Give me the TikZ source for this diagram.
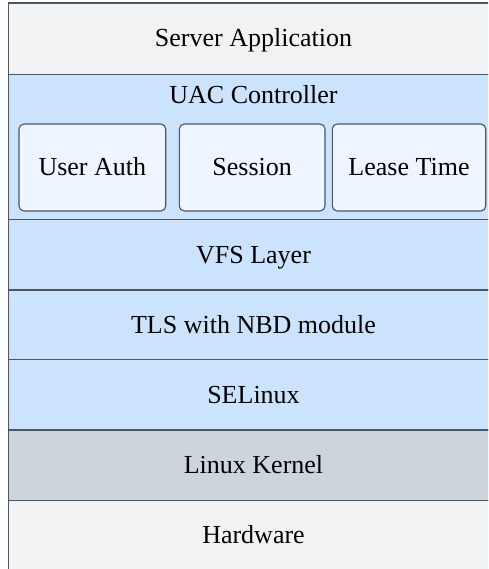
\documentclass[tikz,border=0pt]{standalone}
\usepackage{fontspec}
\setmainfont{Liberation Serif}
\definecolor{edge}{HTML}{4D5462}
\definecolor{appgray}{HTML}{F1F2F4}
\definecolor{sysblue}{HTML}{CCE3FD}
\definecolor{modfill}{HTML}{EEF5FF}
\definecolor{kernelgray}{HTML}{CDD5DC}
\begin{document}
\begin{tikzpicture}[x=1pt,y=-1pt,
  layer/.style={draw=edge, line width=1.3pt, minimum width=490pt, anchor=north west,
    inner sep=0pt, outer sep=0pt},
  module/.style={draw=edge, line width=1.1pt, fill=modfill, rounded corners=5pt,
    anchor=north west, inner sep=0pt, outer sep=0pt, minimum height=87pt},
  lbl/.style={anchor=base, inner sep=0pt, font=\fontsize{26}{30}\selectfont, text=black}
]
\clip (0,0) rectangle (488,569);

% stacked layers, top to bottom
\node[layer, fill=appgray,    minimum height=71.5pt] (server)   at (8.5,3)     {};
\node[layer, fill=sysblue,    minimum height=145pt]  (uac)      at (8.5,74.5)  {};
\node[layer, fill=sysblue,    minimum height=70.5pt] (vfs)      at (8.5,219.5) {};
\node[layer, fill=sysblue,    minimum height=69.3pt] (tls)      at (8.5,290)   {};
\node[layer, fill=sysblue,    minimum height=70.7pt] (selinux)  at (8.5,359.3) {};
\node[layer, fill=kernelgray, minimum height=70.5pt] (kernel)   at (8.5,430)   {};
\node[layer, fill=appgray,    minimum height=70.5pt] (hardware) at (8.5,500.5) {};

% modules inside the UAC controller
\node[module, minimum width=146.7pt] (auth)    at (19,124)    {};
\node[module, minimum width=145.7pt] (session) at (179.3,124) {};
\node[module, minimum width=153.4pt] (lease)   at (332.3,124) {};

% labels
\node[lbl] (serverlbl)   at (253.5,46.7)  {Server Application};
\node[lbl] (uaclbl)      at (253.5,103.3) {UAC Controller};
\node[lbl] (authlbl)     at (auth.center |- 0,176)    {User Auth};
\node[lbl] (sessionlbl)  at (session.center |- 0,176) {Session};
\node[lbl] (leaselbl)    at (lease.center |- 0,176)   {Lease Time};
\node[lbl] (vfslbl)      at (253.5,263)   {VFS Layer};
\node[lbl] (tlslbl)      at (253.5,333)   {TLS with NBD module};
\node[lbl] (selinuxlbl)  at (253.5,403)   {SELinux};
\node[lbl] (kernellbl)   at (253.5,473.3) {Linux Kernel};
\node[lbl] (hardwarelbl) at (253.5,543.5) {Hardware};
\end{tikzpicture}
\end{document}
